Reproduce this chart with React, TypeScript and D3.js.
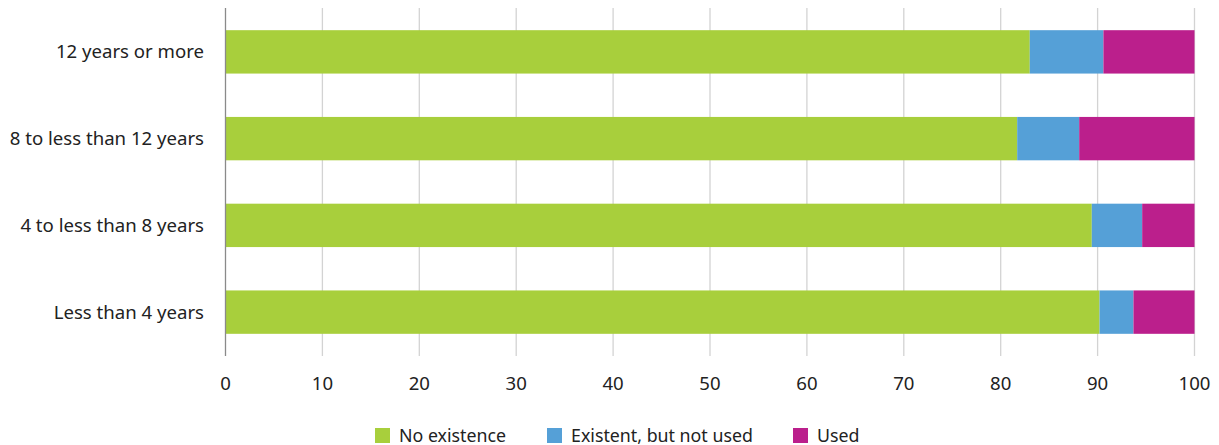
import React, { useEffect } from "react";
import * as d3 from "d3";

const categories = ["12 years or more", "8 to less than 12 years", "4 to less than 8 years", "Less than 4 years"];
const noExistence = [83.0, 81.7, 89.4, 90.2];
const existentNotUsed = [7.6, 6.4, 5.2, 3.5];
const used = [9.4, 11.9, 5.4, 6.3];
const seriesNames = ["No existence", "Existent, but not used", "Used"];
const seriesColors = ["#a8cf3c", "#55a0d7", "#bb1f8c"];
const xTicks = [0, 10, 20, 30, 40, 50, 60, 70, 80, 90, 100];

const W = 1219;
const H = 445;
const FONT = "'Source Sans Pro', 'Noto Sans', sans-serif";

export default function App() {
  useEffect(() => {
    document.body.style.margin = "0";
  }, []);

  const x = d3.scaleLinear().domain([0, 100]).range([225.5, 1194.5]);
  const y = d3.scaleBand<string>().domain(categories).range([8.5, 355.5]).paddingInner(0.5).paddingOuter(0.25);

  const rows = categories.map((c, i) => {
    const vals = [noExistence[i], existentNotUsed[i], used[i]];
    let acc = 0;
    return vals.map((v, k) => {
      const s = { cat: c, k, x0: acc, x1: acc + v };
      acc += v;
      return s;
    });
  });

  const legendX = [375, 547, 793];

  return (
    <svg width={W} height={H} style={{ display: "block", fontFamily: FONT }}>
      <rect width={W} height={H} fill="#fff" />
      {xTicks.map((t) =>
        t === 0 ? null : (
          <line key={t} x1={x(t)} x2={x(t)} y1={8} y2={356} stroke="#d3d3d3" strokeWidth={1.3} />
        )
      )}
      {rows.map((segs) =>
        segs.map((s) => (
          <rect
            key={s.cat + s.k}
            x={x(s.x0)}
            y={y(s.cat)}
            width={x(s.x1) - x(s.x0)}
            height={y.bandwidth()}
            fill={seriesColors[s.k]}
          />
        ))
      )}
      <line x1={x(0)} x2={x(0)} y1={8} y2={356} stroke="#8a8a8a" strokeWidth={1.3} />
      {categories.map((c) => (
        <text
          key={c}
          x={204}
          y={(y(c) ?? 0) + y.bandwidth() / 2}
          dy="0.35em"
          textAnchor="end"
          fontSize={18.6}
          fill="#222"
        >
          {c}
        </text>
      ))}
      {xTicks.map((t) => (
        <text key={t} x={x(t)} y={390} textAnchor="middle" fontSize={18.6} fill="#222">
          {t}
        </text>
      ))}
      {seriesNames.map((n, i) => (
        <g key={n}>
          <rect x={legendX[i]} y={428} width={15} height={15} fill={seriesColors[i]} />
          <text x={legendX[i] + 24} y={441.5} fontSize={17.8} fill="#222">
            {n}
          </text>
        </g>
      ))}
    </svg>
  );
}
